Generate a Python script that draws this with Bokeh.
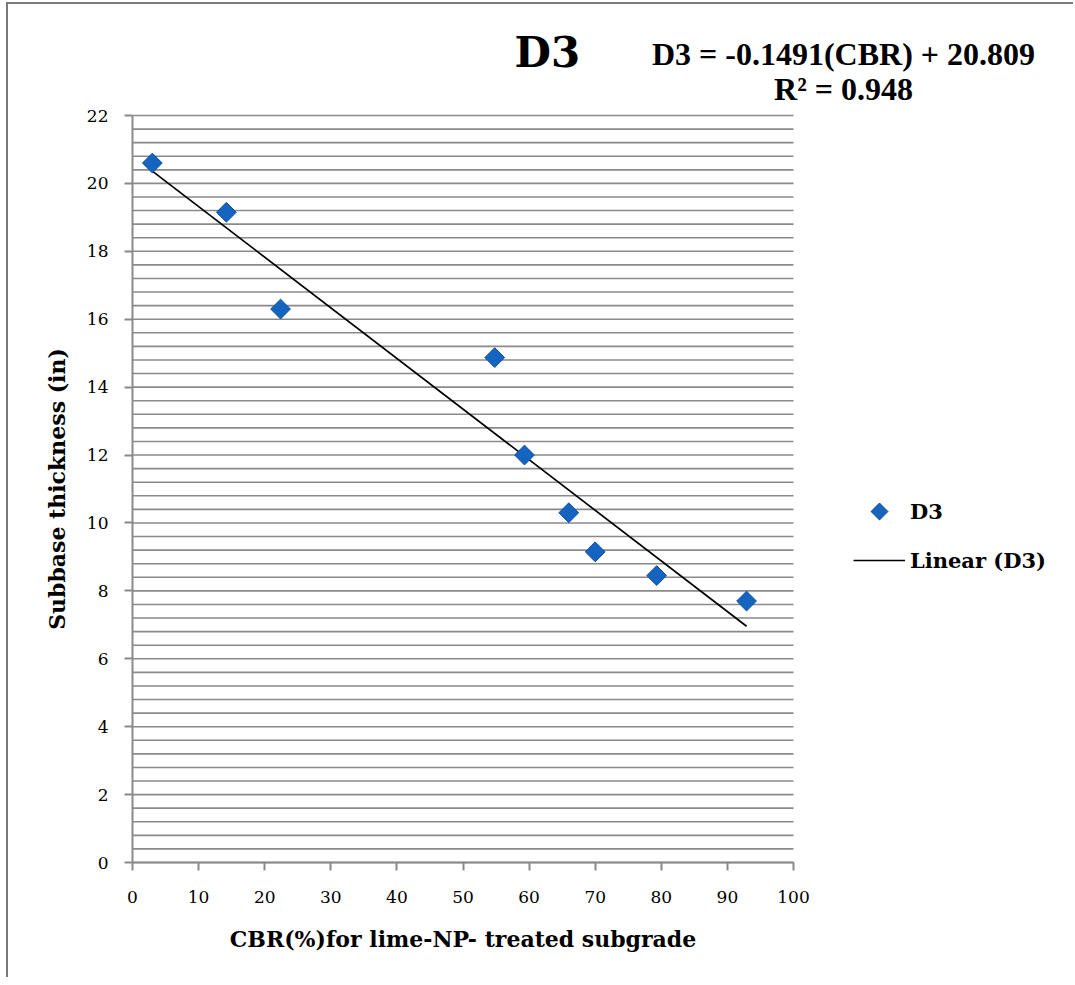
import numpy as np
from bokeh.plotting import figure
from bokeh.models import FixedTicker, Label, Legend, LegendItem, Range1d
from bokeh.embed import file_html
from bokeh.resources import INLINE

# ---- data ----
cbr = [3.0, 14.2, 22.4, 54.8, 59.3, 66.0, 70.0, 79.3, 92.9]
thickness = [20.6, 19.15, 16.3, 14.87, 12.0, 10.3, 9.15, 8.45, 7.7]
slope = -0.1491
intercept = 20.809
x_ticks = [0, 10, 20, 30, 40, 50, 60, 70, 80, 90, 100]
y_ticks = [0, 2, 4, 6, 8, 10, 12, 14, 16, 18, 20, 22]
series_name = "D3"
trend_name = "Linear (D3)"
title_text = "D3"
eq_text = "D3 = -0.1491(CBR) + 20.809"
r2_text = "R\u00b2 = 0.948"
x_label = "CBR(%)for lime-NP- treated subgrade"
y_label = "Subbase thickness (in)"

GRID = "#8a8a8a"
SERIF = "DejaVu Serif"
MARK_FILL, MARK_LINE = "#1565c0", "#0d4f9c"

# ---- layout geometry (canvas pixels) ----
W, H = 1067, 975
OX, OY = 8, 4            # canvas offset on the page (css margin + border)
PLOT_L, PLOT_R = 132 - OX, 793 - OX
PLOT_T, PLOT_B = 115 - OY, 862 - OY
XMIN, XMAX, YMIN, YMAX = 0, 100, 0, 22
sx = (PLOT_R - PLOT_L) / (XMAX - XMIN)
sy = (PLOT_B - PLOT_T) / (YMAX - YMIN)

x_range = Range1d(XMIN - PLOT_L / sx, XMIN + (W - PLOT_L) / sx)
y_range = Range1d(YMIN - (H - PLOT_B) / sy, YMIN + PLOT_B / sy)

def px_to_x(px):
    return XMIN + (px - OX - PLOT_L) / sx

def py_to_y(py):
    return YMIN + (PLOT_B - (py - OY)) / sy

p = figure(width=W, height=H, output_backend="svg", toolbar_location=None,
           x_range=x_range, y_range=y_range, min_border=0)
p.styles = {"border-left": "2px solid #7a7a7a", "border-top": "2px solid #7a7a7a",
            "margin-left": "6px", "margin-top": "2px"}
p.outline_line_color = None
p.background_fill_color = "white"
p.grid.visible = False

# horizontal gridlines every 0.4 within the plot area
grid_vals = [round(i * 0.4, 1) for i in range(56)]
p.segment(x0=[XMIN] * len(grid_vals), x1=[XMAX] * len(grid_vals),
          y0=grid_vals, y1=grid_vals, line_color=GRID, line_width=1.6)

# axes fixed at the data origin
xa, ya = p.xaxis[0], p.yaxis[0]
xa.fixed_location = YMIN
ya.fixed_location = XMIN
xa.bounds = (XMIN, XMAX)
ya.bounds = (YMIN, YMAX)
for ax in (xa, ya):
    ax.axis_line_color = GRID
    ax.axis_line_width = 2
    ax.major_tick_line_color = GRID
    ax.major_tick_line_width = 2
    ax.major_tick_in = 0
    ax.major_tick_out = 8
    ax.minor_tick_line_color = None
    ax.major_label_text_font = SERIF
    ax.major_label_text_font_size = "17px"
    ax.major_label_text_color = "black"
    ax.axis_label_text_font = SERIF
    ax.axis_label_text_font_style = "bold"
    ax.axis_label_text_font_size = "22px"
    ax.axis_label_text_color = "black"

xa.ticker = FixedTicker(ticks=x_ticks)
ya.ticker = FixedTicker(ticks=y_ticks)
xa.major_label_standoff = 20
ya.major_label_standoff = 16
xa.axis_label = x_label
ya.axis_label = y_label
xa.axis_label_standoff = 20
ya.axis_label_standoff = 14

# trendline from the fitted equation
tx = [min(cbr), max(cbr)]
ty = [slope * v + intercept for v in tx]
trend = p.line(tx, ty, line_color="black", line_width=1.7)

pts = p.scatter(cbr, thickness, marker="square", size=14, angle=np.pi / 4,
                fill_color=MARK_FILL, line_color=MARK_LINE, line_width=1)

# texts (baseline offsets tuned for the SVG renderer)
p.add_layout(Label(x=px_to_x(514), y=py_to_y(52), text=title_text,
                   text_font=SERIF, text_font_style="bold", text_font_size="42px",
                   text_color="black", text_align="left", text_baseline="alphabetic"))
p.add_layout(Label(x=px_to_x(843), y=py_to_y(53), text=eq_text,
                   text_font="Liberation Serif", text_font_style="bold", text_font_size="32px",
                   text_color="black", text_align="center", text_baseline="alphabetic"))
p.add_layout(Label(x=px_to_x(843), y=py_to_y(88), text=r2_text,
                   text_font="Liberation Serif", text_font_style="bold", text_font_size="32px",
                   text_color="black", text_align="center", text_baseline="alphabetic"))

# legend: text entries; the series symbol is drawn rotated at the legend's glyph slot
LEG_L, LEG_TOP = 853, 495          # page px
GLYPH_W, ROW_H, SPACING = 52, 32, 17
legend_key = p.scatter(x=[], y=[], marker="square", fill_alpha=0, line_alpha=0)
legend = Legend(items=[LegendItem(label=series_name, renderers=[legend_key]),
                       LegendItem(label=trend_name, renderers=[trend])],
                location=(LEG_L - OX, H - (LEG_TOP + 2 * ROW_H + SPACING - OY)),
                orientation="vertical",
                glyph_width=GLYPH_W, glyph_height=ROW_H, label_height=ROW_H,
                spacing=SPACING, padding=0, margin=0, label_standoff=5,
                border_line_color=None, background_fill_alpha=0,
                label_text_font=SERIF, label_text_font_style="bold",
                label_text_font_size="21px", label_text_color="black")
p.add_layout(legend, "center")
p.scatter(x=[px_to_x(LEG_L + GLYPH_W / 2)], y=[py_to_y(LEG_TOP + ROW_H / 2)],
          marker="square", size=12, angle=np.pi / 4,
          fill_color=MARK_FILL, line_color=MARK_LINE, line_width=1)

open("out.html", "w").write(file_html(p, INLINE))
